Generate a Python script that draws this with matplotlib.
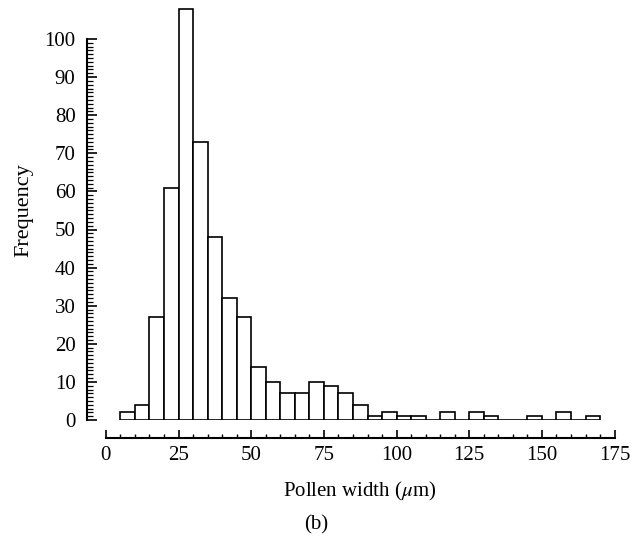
import numpy as np
import matplotlib
matplotlib.use('Agg')
import matplotlib.pyplot as plt
import matplotlib.ticker as ticker

# Гистограмма ширины пыльцы (панель b)

bin_left = [5, 10, 15, 20, 25, 30, 35, 40, 45, 50, 55, 60, 65, 70, 75, 80, 85,
            90, 95, 100, 105, 110, 115, 120, 125, 130, 135, 140, 145, 150, 155, 160, 165]
counts = [2, 4, 27, 61, 108, 73, 48, 32, 27, 14, 10, 7, 7, 10, 9, 7, 4,
          1, 2, 1, 1, 0, 2, 0, 2, 1, 0, 0, 1, 0, 2, 0, 1]
bin_width = 5
x_ticks = [0, 25, 50, 75, 100, 125, 150, 175]
y_ticks = [0, 10, 20, 30, 40, 50, 60, 70, 80, 90, 100]

plt.rcParams['font.family'] = ['Liberation Serif', 'DejaVu Serif']
plt.rcParams['mathtext.fontset'] = 'stix'
fs = 15

W, H = 635, 540
fig = plt.figure(figsize=(W / 100, H / 100), dpi=100)

# positions in pixels: x0 = 105.9 px, 2.907 px/unit; y0 = 420 px, 3.81 px/unit
xmin, xmax = -6.6, 175.6
ymax = 110
left = 86.7 / W
right = (105.9 + xmax * 2.907) / W
bottom = 1 - 420 / H
top = 1 - (420 - ymax * 3.81) / H
ax = fig.add_axes([left, bottom, right - left, top - bottom])

ax.bar(bin_left, counts, width=bin_width, align='edge', facecolor='white',
       edgecolor='black', linewidth=1.2)

ax.set_xlim(xmin, xmax)
ax.set_ylim(0, ymax)

for s in ['top', 'right']:
    ax.spines[s].set_visible(False)
ax.spines['left'].set_bounds(0, 100)
ax.spines['left'].set_linewidth(1.5)
ax.spines['bottom'].set_bounds(0, 175)
ax.spines['bottom'].set_linewidth(1.5)
ax.spines['bottom'].set_position(('outward', 12.7))

ax.set_xticks(x_ticks)
ax.xaxis.set_minor_locator(ticker.FixedLocator(np.arange(0, 176, 5)))
ax.set_yticks(y_ticks)
ax.yaxis.set_minor_locator(ticker.FixedLocator(np.arange(0, 101, 1)))

ax.tick_params(axis='x', which='major', direction='in', length=5.5, width=1.2,
               labelsize=fs, pad=6)
ax.tick_params(axis='x', which='minor', direction='in', length=3, width=1.0)
ax.tick_params(axis='y', which='major', direction='in', length=7, width=1.2,
               labelsize=fs, pad=8)
ax.tick_params(axis='y', which='minor', direction='in', length=4, width=0.9)

ax.set_xlabel('Pollen width ($\\mathit{\\mu}$m)', fontsize=fs)
ax.xaxis.set_label_coords(0.516, -0.142)
ax.set_ylabel('Frequency', fontsize=16, labelpad=8)

fig.text(316 / W, 1 - 525 / H, '(b)', ha='center', va='center', fontsize=fs)

fig.savefig('out.png', dpi=100)
